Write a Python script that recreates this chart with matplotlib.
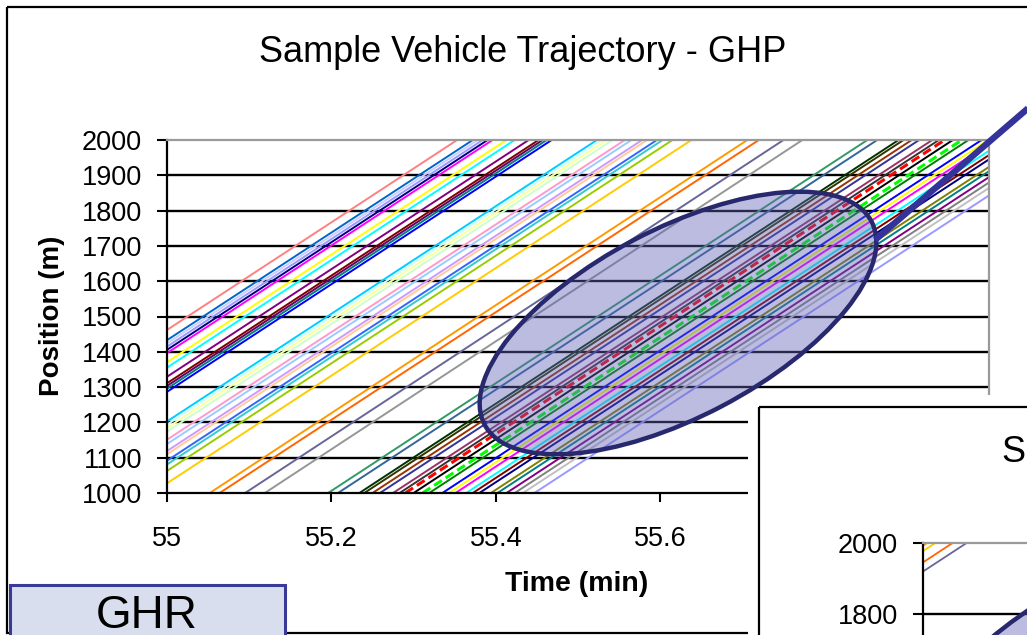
import numpy as np
import matplotlib
matplotlib.use("Agg")
import matplotlib.pyplot as plt
from matplotlib.patches import Ellipse, Rectangle
from matplotlib.lines import Line2D
from matplotlib.transforms import Affine2D

plt.rcParams['font.family'] = ['Liberation Sans', 'DejaVu Sans']

W, H = 1027, 635

# --- data -----------------------------------------------------------------
# each vehicle: time (min) at 1000 m and time at 2000 m
grpA_in = [54.697, 54.716, 54.722, 54.728, 54.734, 54.740, 54.757, 54.767,
           54.784, 54.796, 54.801, 54.806, 54.812]
grpA_out = [55.353, 55.372, 55.378, 55.384, 55.390, 55.396, 55.413, 55.423,
            55.440, 55.452, 55.457, 55.462, 55.468]
grpA_col = ['#FF8080', '#0066CC', '#CCCCFF', '#9999FF', '#000080', '#FF00FF',
            '#FFFF00', '#00FFFF', '#800080', '#800000', '#660066', '#008080',
            '#0000FF']

grpB_in = [54.867, 54.873, 54.879, 54.886, 54.901, 54.909, 54.922, 54.928,
           54.940, 54.947, 54.959, 54.982]
grpB_out = [55.523, 55.529, 55.535, 55.542, 55.557, 55.565, 55.578, 55.584,
            55.596, 55.603, 55.615, 55.638]
grpB_col = ['#00CCFF', '#CCFFFF', '#FFFF99', '#CCFFCC', '#FF99CC', '#99CCFF',
            '#CC99FF', '#FFCC99', '#3366FF', '#33CCCC', '#99CC00', '#FFCC00']

grpC_in = [55.052, 55.064, 55.095, 55.119]
grpC_out = [55.706, 55.720, 55.750, 55.773]
grpC_col = ['#FF9900', '#FF6600', '#666699', '#969696']

grpD_in = [55.196, 55.208, 55.234, 55.240, 55.250, 55.259, 55.275, 55.283,
           55.290, 55.300, 55.311, 55.319, 55.335, 55.343, 55.351, 55.364,
           55.372, 55.380, 55.394, 55.402, 55.413, 55.423, 55.433, 55.447]
grpD_out = [55.852, 55.864, 55.890, 55.896, 55.906, 55.915, 55.931, 55.939,
            55.946, 55.956, 55.967, 55.975, 55.991, 55.999, 56.007, 56.020,
            56.028, 56.036, 56.050, 56.058, 56.069, 56.079, 56.089, 56.103]
grpD_col = ['#339966', '#336699', '#003300', '#333300', '#993300', '#333399',
            '#993366', '#333333', '#FF0000', '#000000', '#00FF00', '#008000',
            '#0000FF', '#FFFF00', '#FF00FF', '#00FFFF', '#800000', '#000080',
            '#808000', '#008080', '#800080', '#808080', '#C0C0C0', '#9999FF']
dashed_cols = ['#FF0000', '#00FF00']

# GHR inset (only its top-left corner is visible)
ghr_in = [54.349, 54.359, 54.380, 54.397]
ghr_out = [55.005, 55.015, 55.036, 55.053]
ghr_col = ['#FF9900', '#FFCC00', '#FF6600', '#666699']

pos_ends = [1000, 2000]
x_ticks = [55, 55.2, 55.4, 55.6, 55.8, 56]
x_labels = ['55', '55.2', '55.4', '55.6', '', '']   # last two hidden by inset
y_ticks = list(range(1000, 2001, 100))
inset_y_ticks = [1800, 2000]

# --- figure ----------------------------------------------------------------
fig = plt.figure(figsize=(W / 100, H / 100), dpi=100)
fig.patch.set_facecolor('white')
pix = Affine2D().scale(1 / W, -1 / H).translate(0, 1) + fig.transFigure


def box(x0, y0, x1, y1):
    return [x0 / W, 1 - y1 / H, (x1 - x0) / W, (y1 - y0) / H]


def style_axes(a, yt, first_grid_hidden=True):
    a.set_xlim(55, 56)
    a.set_ylim(1000, 2000)
    a.set_xticks(x_ticks)
    a.set_xticklabels(x_labels)
    a.set_yticks(yt)
    a.yaxis.grid(True, color='black', lw=1.7)
    a.get_ygridlines()[-1].set_visible(False)
    if first_grid_hidden:
        a.get_ygridlines()[0].set_visible(False)
    for s in ['left', 'bottom']:
        a.spines[s].set_color('black')
        a.spines[s].set_linewidth(1.6)
    for s in ['top', 'right']:
        a.spines[s].set_color('#9a9a9a')
        a.spines[s].set_linewidth(1.6)
    a.tick_params(axis='y', direction='out', length=7, width=1.5,
                  labelsize=19.5, pad=11, colors='black')
    a.tick_params(axis='x', direction='out', length=6.5, width=1.5,
                  labelsize=19.5, pad=17, colors='black')
    a.set_axisbelow(True)


ax = fig.add_axes(box(167, 140, 989, 493))
style_axes(ax, y_ticks)

for t_in, t_out, c in zip(grpA_in + grpB_in + grpC_in + grpD_in,
                          grpA_out + grpB_out + grpC_out + grpD_out,
                          grpA_col + grpB_col + grpC_col + grpD_col):
    if c in dashed_cols and t_in > 55.25:
        ax.plot([t_in, t_out], pos_ends, color=c, lw=2.2, ls=(0, (3, 1.5)))
    else:
        ax.plot([t_in, t_out], pos_ends, color=c, lw=1.4)

# outer frame of the chart object
fig.add_artist(Rectangle((7, 7), 1100, 626, transform=pix, fill=False,
                         edgecolor='black', lw=1.6, zorder=1))

# highlight ellipse and connector
fig.add_artist(Ellipse((678, 323), 437, 188, angle=-27.7, transform=pix,
                       facecolor=(0.38, 0.38, 0.72, 0.42),
                       edgecolor='#28286e', lw=3.2, zorder=3))
fig.add_artist(Line2D([875, 1040], [240, 98], transform=pix,
                      color='#333399', lw=4.6, zorder=4,
                      solid_capstyle='butt'))

# titles / labels of the main chart
fig.text(523, 52, 'Sample Vehicle Trajectory - GHP', transform=pix,
         ha='center', va='center', fontsize=26)
fig.text(52, 316, 'Position (m)', transform=pix, ha='center', va='center',
         rotation=90, fontsize=20, fontweight='bold')
fig.text(577, 584, 'Time (min)', transform=pix, ha='center', va='center',
         fontsize=20.5, fontweight='bold')

# --- second (GHR) chart overlapping at bottom right ----------------------
fig.add_artist(Rectangle((748, 395), 300, 260, transform=pix,
                         facecolor='white', edgecolor='none', zorder=5))
fig.add_artist(Rectangle((759, 407), 400, 300, transform=pix, fill=False,
                         edgecolor='black', lw=1.6, zorder=5.5))
ax2 = fig.add_axes(box(923, 543, 923 + 822, 543 + 353), zorder=6)
ax2.patch.set_visible(False)
style_axes(ax2, inset_y_ticks, first_grid_hidden=False)
ax2.tick_params(axis='x', labelbottom=False)
for t_in, t_out, c in zip(ghr_in, ghr_out, ghr_col):
    ax2.plot([t_in, t_out], pos_ends, color=c, lw=1.3)
fig.text(1002, 452, 'Sample Vehicle Trajectory - GHR', transform=pix,
         ha='left', va='center', fontsize=26, zorder=7)
fig.add_artist(Ellipse((1118, 666), 437, 188, angle=-27.7, transform=pix,
                       facecolor=(0.38, 0.38, 0.72, 0.42),
                       edgecolor='#28286e', lw=3.2, zorder=7))

# GHR label box
fig.add_artist(Rectangle((10, 585), 275, 60, transform=pix,
                         facecolor='#d9deef', edgecolor='#3a3a96', lw=2.2,
                         zorder=8))
fig.text(147, 628, 'GHR', transform=pix, ha='center', va='baseline',
         fontsize=33, zorder=9)

fig.savefig('out.png', dpi=100)
